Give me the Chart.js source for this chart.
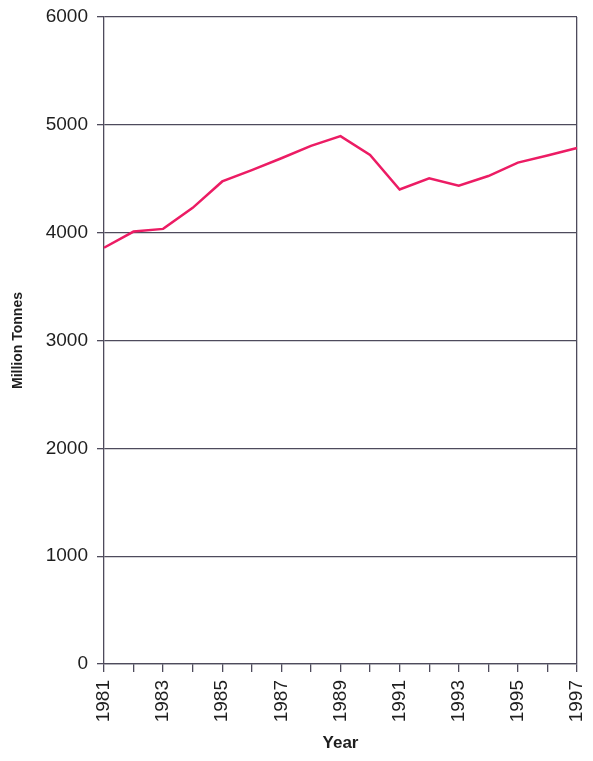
<!DOCTYPE html>
<html>
<head>
<meta charset="utf-8">
<script src="https://cdn.jsdelivr.net/npm/chart.js@4.4.1/dist/chart.umd.min.js"></script>
<style>
	html, body { margin: 0; padding: 0; background: #fff; }
	#wrap { width: 593px; height: 761px; }
</style>
</head>
<body>
<div id="wrap"><canvas id="prodChart" width="593" height="761"></canvas></div>
<script>
// data
var years = ["1981", "1982", "1983", "1984", "1985", "1986", "1987", "1988", "1989",
	"1990", "1991", "1992", "1993", "1994", "1995", "1996", "1997"];
var tonnes = [3860, 4010, 4035, 4230, 4475, 4580, 4690, 4805, 4895,
	4720, 4400, 4505, 4435, 4525, 4650, 4715, 4785];
var yTicks = [0, 1000, 2000, 3000, 4000, 5000, 6000];

var gridColor = "#4e4b5c";
var textColor = "#1e1e1e";

var chart = new Chart(document.getElementById("prodChart"), {
	type: "line",
	data: {
		labels: years,
		datasets: [
			{
				data: tonnes,
				label: "Production",
				borderColor: "#ec1c64",
				borderWidth: 2.5,
				pointRadius: 0,
				tension: 0,
				fill: false,
			},
		],
	},
	options: {
		responsive: false,
		animation: false,
		layout: { padding: { top: 17, right: 16, left: 0, bottom: 0 } },
		plugins: {
			legend: { display: false },
			tooltip: { enabled: false },
		},
		scales: {
			x: {
				type: "category",
				offset: false,
				border: { display: true, color: gridColor, width: 1.3 },
				grid: {
					drawOnChartArea: true,
					color: function (c) {
						return c.index === years.length - 1 ? gridColor : "rgba(0,0,0,0)";
					},
					lineWidth: 1.3,
					tickColor: gridColor,
					tickLength: 8,
				},
				ticks: {
					autoSkip: false,
					minRotation: 90,
					maxRotation: 90,
					padding: 8,
					color: textColor,
					font: { family: "Liberation Sans", size: 19 },
					callback: function (v, i) {
						return i % 2 === 0 ? years[i] : "";
					},
				},
				title: {
					display: true,
					text: "Year",
					color: textColor,
					font: { family: "Liberation Sans", size: 17, weight: "bold" },
					padding: { top: 0, bottom: 7 },
				},
				afterFit: function (scale) {
					scale.height = 97;
					scale.paddingLeft = 0;
					scale.paddingRight = 0;
				},
			},
			y: {
				min: 0,
				max: 6000,
				border: { display: true, color: gridColor, width: 1.3 },
				grid: {
					color: gridColor,
					lineWidth: 1.3,
					tickColor: gridColor,
					tickLength: 7,
				},
				afterBuildTicks: function (scale) {
					scale.ticks = yTicks.map(function (v) { return { value: v }; });
				},
				ticks: {
					padding: 9,
					color: textColor,
					font: { family: "Liberation Sans", size: 19 },
					callback: function (v) {
						return String(v);
					},
				},
				title: {
					display: true,
					text: "Million Tonnes",
					color: textColor,
					font: { family: "Liberation Sans", size: 14, weight: "bold" },
					padding: { top: 10, bottom: 0 },
				},
				afterFit: function (scale) {
					scale.width = 104;
					scale.paddingTop = 0;
					scale.paddingBottom = 0;
				},
			},
		},
	},
});
</script>
</body>
</html>
